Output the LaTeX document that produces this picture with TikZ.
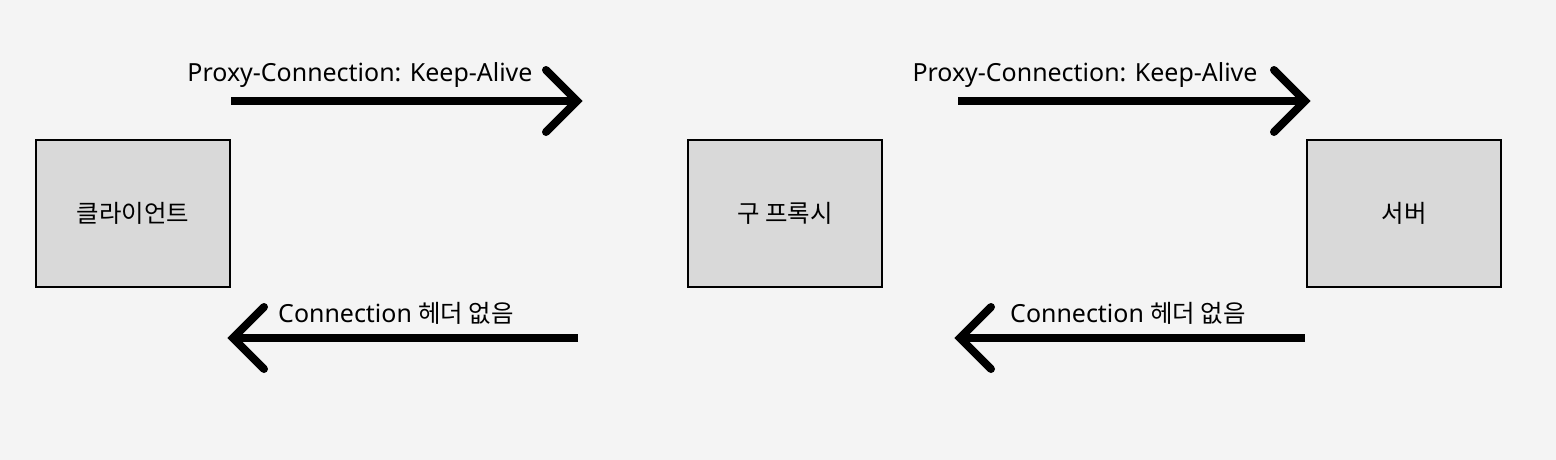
\documentclass[tikz,border=0pt]{standalone}
\usepackage{fontspec}
\setmainfont{Noto Sans}
\newfontfamily\kr{Noto Sans CJK KR}
\usetikzlibrary{calc}
\definecolor{bgcol}{HTML}{F4F4F4}
\definecolor{boxcol}{HTML}{D9D9D9}
\tikzset{
  hostbox/.style={draw=black, fill=boxcol, line width=0.7pt, minimum width=3.88cm,
    minimum height=2.94cm, inner sep=0pt, font=\kr\fontsize{13.9}{16}\selectfont},
  msg/.style={inner sep=0pt, anchor=base, font=\fontsize{14.2}{17}\selectfont},
  shaft/.style={line width=0.16cm},
  barb/.style={line width=0.16cm, line cap=round, line join=miter},
}
\begin{document}
\begin{tikzpicture}[x=0.02cm,y=-0.02cm]
  % background, also fixes the size
  \fill[bgcol] (0,0) rectangle (1556,460);
  \useasboundingbox (0,0) rectangle (1556,460);

  \node[hostbox] (client) at (133,213.5) {클라이언트};
  \node[hostbox] (proxy)  at (785,213.5) {구 프록시};
  \node[hostbox] (server) at (1404,213.5) {서버};

  % requests
  \coordinate (req1s) at (231,101);
  \coordinate (req1e) at (577,101);
  \coordinate (req2s) at (958,101);
  \coordinate (req2e) at (1305,101);
  % responses
  \coordinate (res1s) at (578,338);
  \coordinate (res1e) at (233,338);
  \coordinate (res2s) at (1305,338);
  \coordinate (res2e) at (960,338);

  \draw[shaft] (req1s) -- (req1e);
  \draw[barb] ($(req1e)+(-31,-31)$) -- (req1e) -- ($(req1e)+(-31,31)$);
  \draw[shaft] (req2s) -- (req2e);
  \draw[barb] ($(req2e)+(-31,-31)$) -- (req2e) -- ($(req2e)+(-31,31)$);
  \draw[shaft] (res1s) -- (res1e);
  \draw[barb] ($(res1e)+(31,-31)$) -- (res1e) -- ($(res1e)+(31,31)$);
  \draw[shaft] (res2s) -- (res2e);
  \draw[barb] ($(res2e)+(31,-31)$) -- (res2e) -- ($(res2e)+(31,31)$);

  \node[msg] (lreq1) at (360,81) {Proxy-Connection: Keep-Alive};
  \node[msg] (lreq2) at (1085,81) {Proxy-Connection: Keep-Alive};
  \node[msg] (lres1) at (396,322) {Connection {\kr\fontsize{13.9}{16}\selectfont 헤더 없음}};
  \node[msg] (lres2) at (1128,322) {Connection {\kr\fontsize{13.9}{16}\selectfont 헤더 없음}};
\end{tikzpicture}
\end{document}
